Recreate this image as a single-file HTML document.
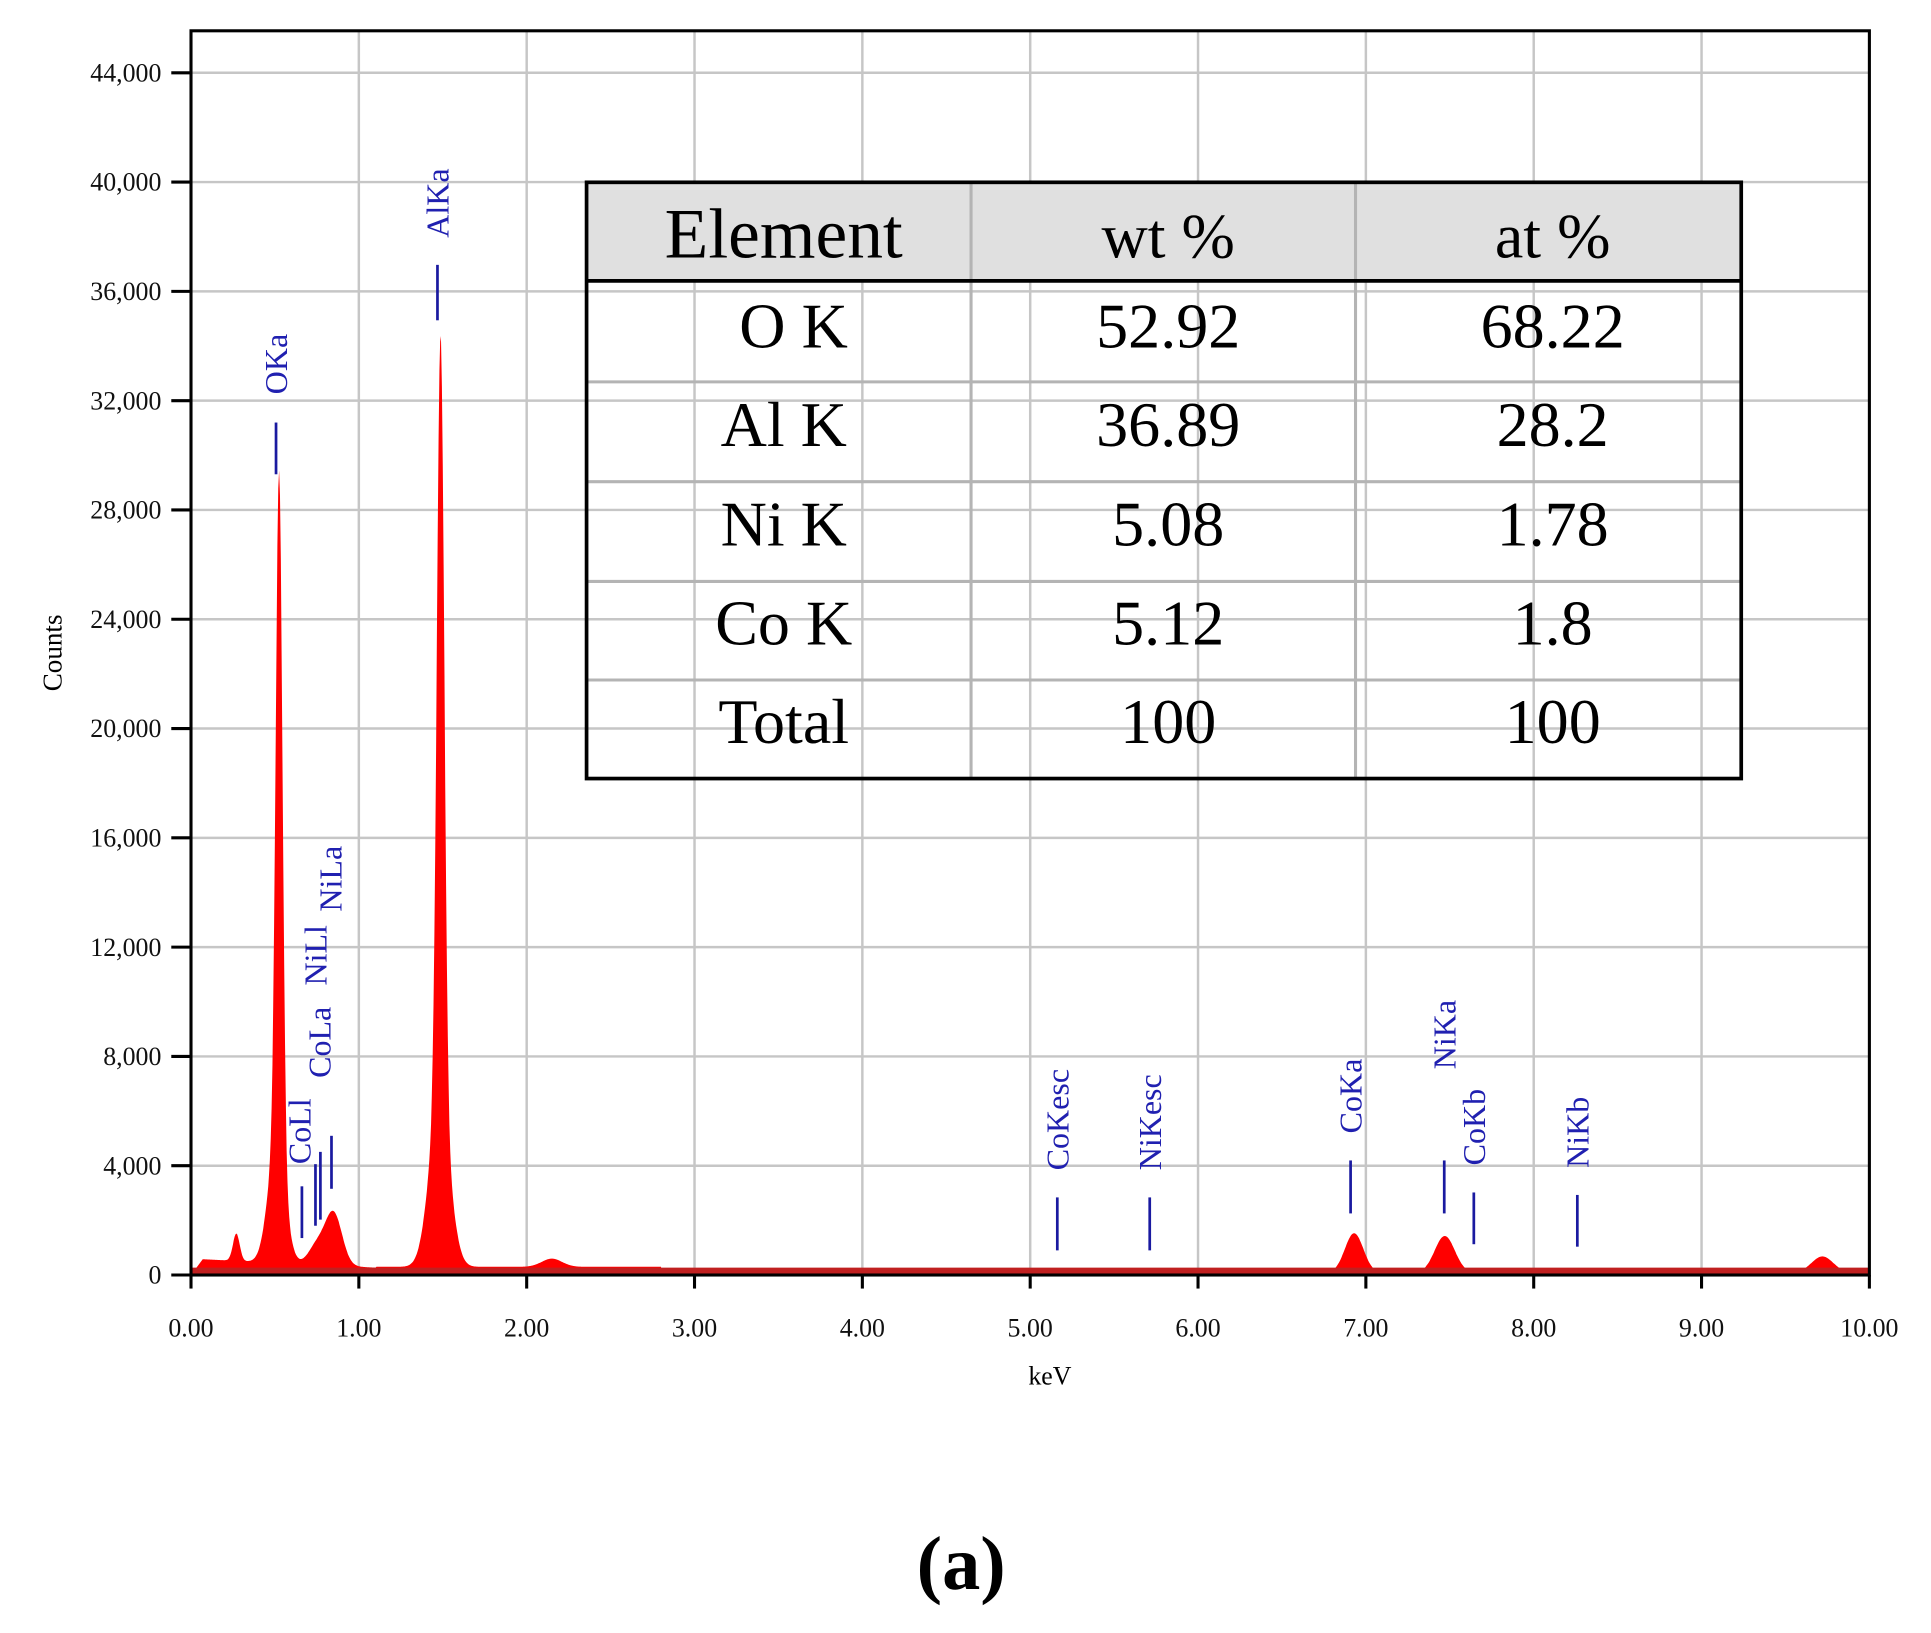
<!DOCTYPE html>
<html><head><meta charset="utf-8"><style>
html,body{margin:0;padding:0;background:#fff;}
svg{display:block;}
text{font-family:"Liberation Serif",serif;}
</style></head><body>
<svg id="s" width="1931" height="1633" viewBox="0 0 1567 1325.6" preserveAspectRatio="none" xmlns="http://www.w3.org/2000/svg">
<g id="grid" stroke="#c6c6c6" stroke-width="2"></g>
<path id="spec" fill="#ff0000" stroke="none" d=""/>
<line x1="155" y1="1032" x2="1517" y2="1032" stroke="#c02020" stroke-width="6"/>
<rect x="155" y="25" width="1362" height="1010" fill="none" stroke="#000" stroke-width="2.5"/>
<g id="ticks" stroke="#000" stroke-width="2.5"></g>
<g id="labels" font-size="21" fill="#111"></g>
<text x="852" y="1124" font-size="21" text-anchor="middle">keV</text>
<text transform="translate(50,530) rotate(-90)" font-size="22" text-anchor="middle">Counts</text>
<g id="marks" stroke="#1a1aa0" stroke-width="2.2"></g>
<g id="mlab" font-size="26" fill="#2020b0"></g>
<rect x="476" y="148" width="937" height="80" fill="#e0e0e0"/>
<g stroke="#b4b4b4" stroke-width="2.5">
<line x1="476" y1="310" x2="1413" y2="310"/><line x1="476" y1="391" x2="1413" y2="391"/>
<line x1="476" y1="472" x2="1413" y2="472"/><line x1="476" y1="552" x2="1413" y2="552"/>
<line x1="788" y1="148" x2="788" y2="632"/><line x1="1100" y1="148" x2="1100" y2="632"/>
</g>
<rect x="476" y="148" width="937" height="484" fill="none" stroke="#000" stroke-width="3"/>
<line x1="476" y1="228" x2="1413" y2="228" stroke="#000" stroke-width="3"/>
<g font-size="52" text-anchor="middle" fill="#000">
<text x="636" y="209" font-size="58">Element</text><text x="948" y="209">wt %</text><text x="1260" y="209">at %</text>
<text x="644" y="282">O K</text><text x="948" y="282">52.92</text><text x="1260" y="282">68.22</text>
<text x="636" y="362">Al K</text><text x="948" y="362">36.89</text><text x="1260" y="362">28.2</text>
<text x="636" y="443">Ni K</text><text x="948" y="443">5.08</text><text x="1260" y="443">1.78</text>
<text x="636" y="523">Co K</text><text x="948" y="523">5.12</text><text x="1260" y="523">1.8</text>
<text x="636" y="603">Total</text><text x="948" y="603">100</text><text x="1260" y="603">100</text>
</g>
<text x="780" y="1290" font-size="62" font-weight="bold" text-anchor="middle">(a)</text>
</svg>
<script>
var NS="http://www.w3.org/2000/svg";
function el(p,t,a,txt){var e=document.createElementNS(NS,t);for(var k in a)e.setAttribute(k,a[k]);if(txt)e.textContent=txt;document.getElementById(p).appendChild(e);}
function X(k){return 155+136.2*k;}
function Y(c){return 1035-c*0.02218;}
for(var i=1;i<10;i++)el("grid","line",{x1:X(i),y1:25,x2:X(i),y2:1035});
for(var c=4000;c<=44000;c+=4000)el("grid","line",{x1:155,y1:Y(c),x2:1517,y2:Y(c)});
for(var i=0;i<=10;i++){el("ticks","line",{x1:X(i),y1:1035,x2:X(i),y2:1046});
el("labels","text",{x:X(i),y:1085,"text-anchor":"middle"},i.toFixed(2));}
for(var c=0;c<=44000;c+=4000){el("ticks","line",{x1:139,y1:Y(c),x2:155,y2:Y(c)});
el("labels","text",{x:131,y:Y(c)+7,"text-anchor":"end"},c==0?"0":(c/1000)+",000");}
var pk=[[0.27,1000,0.02],[0.525,24800,0.02],[0.51,4400,0.05],[0.85,1900,0.05],[0.75,700,0.05],[1.487,28200,0.022],[1.48,6000,0.06],[2.15,300,0.06],[6.93,1450,0.055],[7.47,1350,0.06],[9.72,600,0.065],[6.4,150,0.04],[8.26,150,0.05]];
function f(k){var v=k<0.07?0:(k<2.8?(k<1.1?600-k*300:300):80);if(v<80)v=80;
for(var j=0;j<pk.length;j++){var d=(k-pk[j][0])/pk[j][2];v+=pk[j][1]*Math.exp(-d*d/2);}return v;}
var d="M155,1035";for(var k=0.07;k<=10;k+=0.005){d+=" L"+X(k).toFixed(1)+","+Y(f(k)).toFixed(1);}
d+=" L1517,1035 Z";document.getElementById("spec").setAttribute("d",d);
var m=[[224,343,385,"OKa",320],[355,215,260,"AlKa",193],[245,963,1005,"CoLl",945],[256,945,995,"NiLl",800],[260,935,990,"CoLa",875],[269,922,965,"NiLa",740],
[858,972,1015,"CoKesc",950],[933,972,1015,"NiKesc",950],[1096,942,985,"CoKa",920],[1172,942,985,"NiKa",868],[1196,968,1010,"CoKb",946],[1280,970,1012,"NiKb",948]];
var lx={"CoLl":243,"NiLl":256,"CoLa":259,"NiLa":268};
for(var i=0;i<m.length;i++){el("marks","line",{x1:m[i][0],y1:m[i][1],x2:m[i][0],y2:m[i][2]});
var x=(lx[m[i][3]]||m[i][0])+9;el("mlab","text",{transform:"translate("+x+","+m[i][4]+") rotate(-90)"},m[i][3]);}
</script>
</body></html>
